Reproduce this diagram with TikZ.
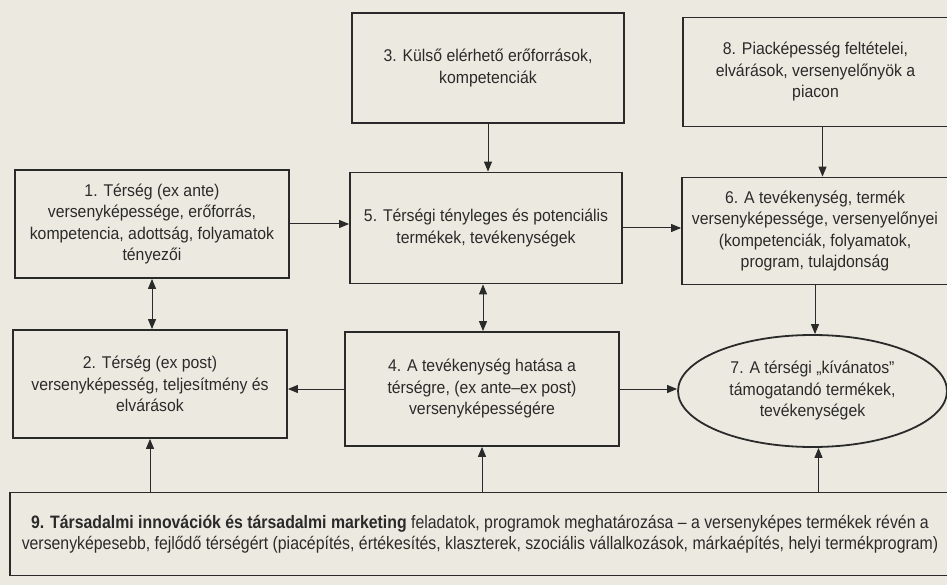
\documentclass[tikz,border=0pt]{standalone}
\usepackage{fontspec}
\setmainfont[FakeStretch=0.93]{Liberation Sans}
\newfontfamily\narrowfont[FakeStretch=0.88]{Liberation Sans}
\usetikzlibrary{arrows.meta,shapes}
\definecolor{paper}{RGB}{236,234,224}
\definecolor{ink}{RGB}{42,42,42}
\tikzstyle{box}=[draw=ink,line width=1.8pt,rectangle,align=center,inner sep=0pt,
  minimum width=274pt,minimum height=108pt,text=ink,font=\fontsize{17}{21.5}\selectfont]
\tikzstyle{goal}=[box,ellipse]
\tikzstyle{link}=[draw=ink,line width=1pt,-{Triangle[length=10pt,width=8pt]}]
\tikzstyle{both}=[link,{Triangle[length=10pt,width=8pt]}-{Triangle[length=10pt,width=8pt]}]

\begin{document}
\begin{tikzpicture}[x=1pt,y=-1pt]
  \fill[paper] (0,0) rectangle (947,585);
  \useasboundingbox (0,0) rectangle (947,585);

  \node[box] (1) at (152,224) {1. Térség (ex ante)\\versenyképessége, erőforrás,\\kompetencia, adottság, folyamatok\\tényezői};
  \node[box] (2) at (150,384) {2. Térség (ex post)\\versenyképesség, teljesítmény és\\elvárások};
  \node[box, minimum width=272pt, minimum height=110pt] (3) at (488,68) {3. Külső elérhető erőforrások,\\kompetenciák};
  \node[box, minimum height=114pt] (4) at (482,389) {4. A tevékenység hatása a\\térségre, (ex ante–ex post)\\versenyképességére};
  \node[box, minimum width=272pt, minimum height=111pt] (5) at (486,228) {5. Térségi tényleges és potenciális\\termékek, tevékenységek};
  \node[box, minimum width=266pt, minimum height=107pt] (6) at (815,231) {6. A tevékenység, termék\\versenyképessége, versenyelőnyei\\(kompetenciák, folyamatok,\\program, tulajdonság};
  \node[goal, minimum width=269pt, minimum height=112pt] (7) at (812.5,391) {7. A térségi „kívánatos”\\támogatandó termékek,\\tevékenységek};
  \node[box, minimum width=265pt, minimum height=109pt] (8) at (815.5,72) {8. Piacképesség feltételei,\\elvárások, versenyelőnyök a\\piacon};
  \node[box, minimum width=940pt, minimum height=83pt, font=\narrowfont\fontsize{18}{21}\selectfont] (9) at (480,534)
    {\textbf{9. Társadalmi innovációk és társadalmi marketing} feladatok, programok meghatározása – a versenyképes termékek révén a\\versenyképesebb, fejlődő térségért (piacépítés, értékesítés, klaszterek, szociális vállalkozások, márkaépítés, helyi termékprogram)};

  \draw[link] (3.south) -- (3.south |- 5.north);
  \draw[link] ([xshift=7pt]8.south) -- ([xshift=7pt]8.south |- 6.north);
  \draw[link] (1.east) -- (1.east -| 5.west);
  \draw[link] (5.east) -- (5.east -| 6.west);
  \draw[both] (1.south) -- (1.south |- 2.north);
  \draw[both] ([xshift=-3pt]5.south) -- ([xshift=-3pt]5.south |- 4.north);
  \draw[link] (4.west) -- (4.west -| 2.east);
  \draw[link] (4.east) -- (4.east -| 7.west);
  \draw[link] (6.south) -- (6.south |- 7.north);
  \draw[link] (2.south |- 9.north) -- (2.south);
  \draw[link] (4.south |- 9.north) -- (4.south);
  \draw[link] ([xshift=6pt]7.south |- 9.north) -- ([xshift=6pt]7.south);
\end{tikzpicture}
\end{document}
